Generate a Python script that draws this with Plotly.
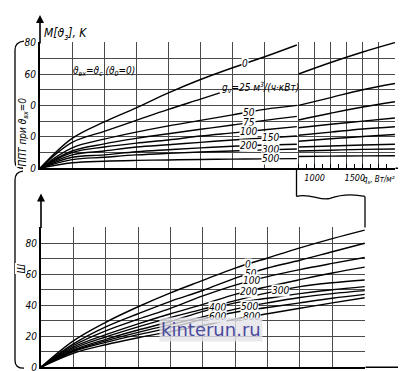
import numpy as np
import plotly.graph_objects as go

W, H = 406, 371
FONT = "DejaVu Sans Condensed, Liberation Sans Narrow, DejaVu Sans, sans-serif"
GRID = "#4a4a4a"

# ---------------- DATA ----------------
# Top chart, left part: q_s 0..800 W/m2
top_left_x = [0, 100, 200, 300, 400, 500, 600, 700, 800]
top_left_0 = [0, 19, 29.5, 38.5, 48, 56.5, 64, 71, 78.5]
top_left_25_x = [0, 100, 200, 300, 400, 500, 560]
top_left_25 = [0, 16.5, 23.5, 30.5, 37.5, 44, 48]
top_left_50 = [0, 13, 18.5, 23, 27, 30.5, 34, 37.5, 40]
top_left_75 = [0, 11, 15.5, 19, 22, 24.8, 27.5, 30.5, 33]
top_left_100 = [0, 10, 13.5, 16, 18, 20.5, 22.5, 24.5, 26.5]
top_left_150 = [0, 8.5, 11, 13.5, 15, 16.5, 18, 19.3, 20.5]
top_left_200 = [0, 7, 8.5, 10.5, 11.8, 13, 14, 14.8, 15.3]
top_left_300 = [0, 5.5, 7, 8.5, 9.5, 10.3, 11, 11.7, 12.3]
top_left_500 = [0, 3.5, 4.5, 5, 5.3, 5.6, 5.8, 6, 6.1]

# Top chart, right part: q_s 800..2000 W/m2
top_right_x = [800, 1200, 1600, 2000]
top_right_0 = [60, 67.3, 74, 80]
top_right_25 = [40, 45, 50, 54]
top_right_50 = [30.7, 35, 39, 42.3]
top_right_75 = [25.8, 28, 30, 32]
top_right_100 = [21, 23, 25, 26.4]
top_right_150 = [17.2, 18.8, 20.2, 21.5]
top_right_200 = [13.5, 14.2, 14.8, 15.3]
top_right_300 = [11, 11.5, 12, 12.3]
top_right_500 = [7.5, 7.7, 7.9, 8]

top_labels = ["0", "50", "75", "100", "150", "200", "300", "500"]
top_label_x = [637, 650, 650, 650, 717, 650, 717, 717]
top_x_ticks = [1000, 1500]

# Bottom chart
bot_x = [0, 100, 200, 300, 400, 500, 600, 700, 800, 900, 1000]
bot_0 = [0, 17, 29, 39, 48, 56, 64, 70.5, 77, 83, 88.5]
bot_50 = [0, 15, 26, 34.5, 42.5, 49.5, 57.5, 64, 69, 74.5, 80]
bot_100 = [0, 14, 23.5, 31, 38, 46, 53, 58.5, 63, 67, 70.8]
bot_200 = [0, 13, 21, 28, 34.5, 40.5, 47, 52, 56.5, 60.8, 64.6]
bot_300 = [0, 12, 19.5, 26, 32, 37.5, 43, 48, 52, 54.5, 56.3]
bot_400 = [0, 11, 18, 24, 29.5, 36, 41.5, 44.5, 47.5, 50, 52]
bot_500 = [0, 10.5, 17, 22.5, 27.5, 32.5, 37.5, 41.5, 45, 47.5, 49.4]
bot_600 = [0, 10, 16, 21, 25.5, 31, 35.5, 38.5, 41.5, 44.5, 47]
bot_800 = [0, 9, 14.5, 19, 23, 27, 31, 34.5, 38, 41.5, 44.8]
bot_labels = ["0", "50", "100", "200", "300", "400", "500", "600", "800"]
bot_label_x = [640, 650, 650, 640, 740, 545, 645, 545, 650]

y_ticks = [0, 20, 40, 60, 80]

# ---------------- FIGURE ----------------
def X(p):
    return p / W

def Y(p):
    return 1 - p / H

fig = go.Figure()
line = dict(color="black", width=1.4)

top_left_series = [top_left_0, top_left_50, top_left_75, top_left_100,
                   top_left_150, top_left_200, top_left_300, top_left_500]
for ys in top_left_series:
    fig.add_trace(go.Scatter(x=top_left_x, y=ys, mode="lines", line=line,
                             line_shape="spline", xaxis="x", yaxis="y"))
fig.add_trace(go.Scatter(x=top_left_25_x, y=top_left_25, mode="lines", line=line,
                         line_shape="spline", xaxis="x", yaxis="y"))

for ys in [top_right_0, top_right_25, top_right_50, top_right_75, top_right_100,
           top_right_150, top_right_200, top_right_300, top_right_500]:
    fig.add_trace(go.Scatter(x=top_right_x, y=ys, mode="lines", line=line,
                             line_shape="spline", xaxis="x2", yaxis="y2"))

bot_series = [bot_0, bot_50, bot_100, bot_200, bot_300, bot_400, bot_500, bot_600, bot_800]
for ys in bot_series:
    fig.add_trace(go.Scatter(x=bot_x, y=ys, mode="lines", line=line,
                             line_shape="spline", xaxis="x3", yaxis="y3"))

ann = []
lf = dict(family=FONT, size=10, color="black", style="italic")
for t, xv, ys in zip(top_labels, top_label_x, top_left_series):
    ann.append(dict(x=xv, y=float(np.interp(xv, top_left_x, ys)), xref="x", yref="y",
                    text=t, showarrow=False, font=lf, bgcolor="white", borderpad=0))
ann.append(dict(x=top_left_25_x[-1], y=top_left_25[-1], xref="x", yref="y",
                text="g<sub>v</sub>=25 м<sup>3</sup>/(ч·кВт)", showarrow=False,
                xanchor="left", yanchor="bottom", yshift=-4, font=lf))
for t, xv, ys in zip(bot_labels, bot_label_x, bot_series):
    ann.append(dict(x=xv, y=float(np.interp(xv, bot_x, ys)), xref="x3", yref="y3",
                    text=t, showarrow=False, font=lf, bgcolor="white", borderpad=0))

tf = dict(family=FONT, size=11, color="black", style="italic")
ann += [
    dict(x=X(34), y=Y(11), xref="paper", yref="paper", xanchor="left",
         text="M[ϑ<sub>з</sub>], K", showarrow=False, font=dict(tf, size=12)),
    dict(x=X(63), y=Y(52), xref="paper", yref="paper", xanchor="left",
         text="ϑ<sub>вх</sub>=ϑ<sub>с</sub> (ϑ<sub>0</sub>=0)", showarrow=False,
         font=dict(tf, size=10)),
    dict(x=X(354), y=Y(172), xref="paper", yref="paper", xanchor="left",
         text="q<sub>s</sub>, Вт/м²", showarrow=False, font=dict(tf, size=8),
         borderpad=0),
    dict(x=X(8), y=Y(86), xref="paper", yref="paper", textangle=-90,
         text="ППТ при ϑ<sub>вх</sub>=0", showarrow=False, font=dict(tf, size=10),
         bgcolor="white", borderpad=0),
    dict(x=X(7), y=Y(270), xref="paper", yref="paper", textangle=-90,
         text="Ш", showarrow=False, font=dict(tf, size=10), bgcolor="white", borderpad=0),
    dict(x=X(203), y=Y(339), xref="paper", yref="paper", text="kinterun.ru",
         showarrow=False, font=dict(family="DejaVu Sans, sans-serif", size=18, color="#4a4a9e"),
         bgcolor="rgba(226,226,232,0.8)", borderpad=1),
]
arrow = dict(xref="paper", yref="paper", axref="pixel", ayref="pixel", text="",
             showarrow=True, arrowhead=2, arrowsize=1, arrowwidth=1.6, arrowcolor="black")
ann += [
    dict(arrow, x=X(32), y=Y(2), ax=0, ay=30),
    dict(arrow, x=X(404), y=Y(160), ax=-18, ay=0),
    dict(arrow, x=X(33), y=Y(186), ax=0, ay=36),
    dict(arrow, x=X(405), y=Y(365), ax=-49, ay=0),
]

sl = dict(color="black", width=1.3)

shapes = [
    dict(type="line", xref="paper", yref="paper", x0=X(288.5), x1=X(288.5), y0=Y(160), y1=Y(189), line=sl),
    dict(type="line", xref="paper", yref="paper", x0=X(357), x1=X(357), y0=Y(189), y1=Y(221), line=sl),
    dict(type="path", xref="paper", yref="paper", line=sl,
         path=f"M {X(288.5)},{Y(189)} C {X(302)},{Y(185)} {X(312)},{Y(194)} {X(322)},{Y(191)} "
              f"C {X(333)},{Y(187)} {X(343)},{Y(186)} {X(357)},{Y(189)}"),
    dict(type="path", xref="paper", yref="paper", line=sl,
         path=f"M {X(16)},{Y(29)} Q {X(7)},{Y(30)} {X(7)},{Y(38)} L {X(7)},{Y(153)} "
              f"Q {X(7)},{Y(160)} {X(15)},{Y(160)}"),
    dict(type="path", xref="paper", yref="paper", line=sl,
         path=f"M {X(15)},{Y(163)} Q {X(7)},{Y(164)} {X(7)},{Y(172)} L {X(7)},{Y(358)} "
              f"Q {X(7)},{Y(366)} {X(16)},{Y(366)}"),
]

gx = dict(showgrid=True, gridcolor=GRID, gridwidth=1, zeroline=False, ticks="",
          showticklabels=False)
gy = dict(showgrid=True, gridcolor=GRID, gridwidth=1, zeroline=False, ticks="",
          tickmode="array", tickvals=y_ticks, tickfont=dict(tf, size=10),
          minor=dict(dtick=10, tick0=0, showgrid=True, gridcolor=GRID, gridwidth=1))

fig.update_layout(
    width=W, height=H, margin=dict(l=0, r=0, t=0, b=0),
    paper_bgcolor="white", plot_bgcolor="white", showlegend=False,
    xaxis=dict(gx, domain=[X(32), X(289)], range=[0, 800.5], dtick=100, tick0=0,
               anchor="y", showline=True, linecolor="black", linewidth=2),
    yaxis=dict(gy, domain=[Y(160), Y(30)], range=[0, 80.3], anchor="x",
               showline=True, linecolor="black", linewidth=2),
    xaxis2=dict(domain=[X(289), X(387)], range=[780, 2001], anchor="y2",
                tickmode="array", tickvals=top_x_ticks, ticks="", showgrid=False,
                zeroline=False, tickfont=dict(tf, size=9),
                showline=True, linecolor="black", linewidth=2,
                minor=dict(tick0=800, dtick=200, showgrid=True, gridcolor=GRID, gridwidth=1)),
    xaxis4=dict(overlaying="x2", range=[780, 2001], anchor="y2", tick0=0, dtick=100,
                ticks="inside", ticklen=4, tickcolor="black", showticklabels=False,
                showgrid=False, zeroline=False, showline=False),
    yaxis2=dict(domain=[Y(160), Y(30)], range=[0, 80.3], anchor="x2", showgrid=True,
                gridcolor=GRID, gridwidth=1, zeroline=False, showticklabels=False,
                ticks="", dtick=10, tick0=0),
    xaxis3=dict(gx, domain=[X(33), X(357)], range=[0, 1001], dtick=100, tick0=0,
                anchor="y3", showline=True, linecolor="black", linewidth=2),
    yaxis3=dict(gy, domain=[Y(365), Y(221)], range=[0, 90.2], anchor="x3",
                showline=True, linecolor="black", linewidth=2),
    annotations=ann, shapes=shapes,
)
# invisible trace so the tick-mark axis x4 is rendered
fig.add_trace(go.Scatter(x=[1000], y=[0], mode="markers", marker=dict(opacity=0),
                         xaxis="x4", yaxis="y2", hoverinfo="skip"))

fig.write_html("out.html")
